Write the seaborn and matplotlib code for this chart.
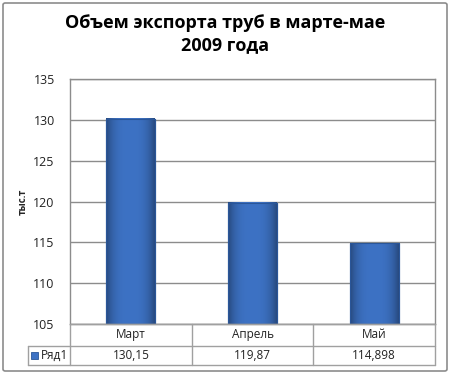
import matplotlib
matplotlib.use("Agg")
import matplotlib.pyplot as plt
import matplotlib.patches as mpatches
from matplotlib.lines import Line2D
import numpy as np
import pandas as pd
import seaborn as sns

categories = ["Март", "Апрель", "Май"]
values = [130.15, 119.87, 114.898]
value_labels = ["130,15", "119,87", "114,898"]
series_name = "Ряд1"
title = "Объем экспорта труб в марте-мае\n2009 года"
y_label = "тыс.т"
y_ticks = [105, 110, 115, 120, 125, 130, 135]

sns.set_theme(style="white")
plt.rcParams['font.family'] = ['Open Sans', 'DejaVu Sans']

W, H = 450, 374
fig = plt.figure(figsize=(W / 100, H / 100), dpi=100)
fig.patch.set_facecolor("white")

# outer border
fig.add_artist(mpatches.FancyBboxPatch((3 / W, 3 / H), 444 / W, 368 / H,
                                       boxstyle="round,pad=0,rounding_size=0.005",
                                       transform=fig.transFigure, fill=False,
                                       edgecolor="#8C8C8C", linewidth=1.2))

left, right, top, bottom = 70, 435, 79, 324
ax = fig.add_axes([left / W, (H - bottom) / H, (right - left) / W, (bottom - top) / H])

df = pd.DataFrame({"cat": categories, "val": values})
sns.barplot(data=df, x="cat", y="val", ax=ax, color="#3D72C4", width=0.4,
            edgecolor="#2A5699", linewidth=0.8, zorder=3)

ymin, ymax = 105, 135
ax.set_ylim(ymin, ymax)
ax.set_yticks(y_ticks)
ax.set_yticklabels([str(t) for t in y_ticks], fontsize=9, color="#222222")
ax.tick_params(axis="y", length=0, pad=11)
ax.set_xticks([])
ax.set_xlabel("")
ax.set_ylabel(y_label, fontsize=7, fontweight="bold")
ax.yaxis.set_label_coords((29 - left) / (right - left), 0.5)
ax.grid(axis="y", color="#8C8C8C", linewidth=1, zorder=0)
for s in ["top", "right", "left", "bottom"]:
    ax.spines[s].set_color("#8C8C8C")
    ax.spines[s].set_linewidth(1)
    ax.spines[s].set_zorder(5)

# gradient overlay on bars
grad = np.linspace(0, 1, 64)
prof = 1 - 0.35 * (np.abs(grad - 0.5) * 2) ** 3
base = np.array([0x3D, 0x72, 0xC4]) / 255
img = np.clip(prof[None, :, None] * base[None, None, :], 0, 1)
for p in ax.patches:
    x0, y0 = p.get_x(), p.get_y()
    w, h = p.get_width(), p.get_height()
    yb = max(y0, ymin)
    yt = y0 + h
    ax.imshow(img, extent=[x0, x0 + w, yb, yt], aspect="auto", zorder=3.5,
              interpolation="bilinear")
    ax.add_patch(mpatches.Rectangle((x0, yb), w, yt - yb, fill=False, edgecolor="#2A5699",
                                    linewidth=0.8, zorder=4))
ax.set_xlim(-0.5, len(categories) - 0.5)
ax.set_ylim(ymin, ymax)

fig.suptitle(title, fontsize=13, fontweight="bold", y=(H - 14) / H, va="top",
             linespacing=1.3, color="black")

# data table below
ft = fig.transFigure
tl, tr = 28, 435
r0, r1, r2 = 324, 345.5, 365
gray = "#A0A0A0"
def fy(y):
    return (H - y) / H
def fx(x):
    return x / W
lines = [
    ((left, right), (r0, r0)),
    ((tl, right), (r1, r1)),
    ((tl, right), (r2, r2)),
    ((tl, tl), (r1, r2)),
    ((left, left), (r0, r2)),
    ((right, right), (r0, r2)),
]
ncat = len(categories)
for i in range(1, ncat):
    xs = left + (right - left) * i / ncat
    lines.append(((xs, xs), (r0, r2)))
for (xa, xb), (ya, yb) in lines:
    fig.add_artist(Line2D([fx(xa), fx(xb)], [fy(ya), fy(yb)], transform=ft,
                          color=gray, linewidth=1))

for i, (c, v) in enumerate(zip(categories, value_labels)):
    xc = left + (right - left) * (i + 0.5) / ncat
    fig.text(fx(xc), fy((r0 + r1) / 2), c, ha="center", va="center", fontsize=8.5,
             color="#222222")
    fig.text(fx(xc), fy((r1 + r2) / 2), v, ha="center", va="center", fontsize=8.5,
             color="#222222")

# legend key
fig.add_artist(mpatches.Rectangle((fx(31), fy(359)), 7 / W, 7 / H, transform=ft,
                                  facecolor="#3D72C4", edgecolor="#2A5699", linewidth=0.6))
fig.text(fx(41), fy((r1 + r2) / 2), series_name, ha="left", va="center", fontsize=8.5,
         color="#222222")

fig.savefig("out.png", dpi=100, facecolor="white")
